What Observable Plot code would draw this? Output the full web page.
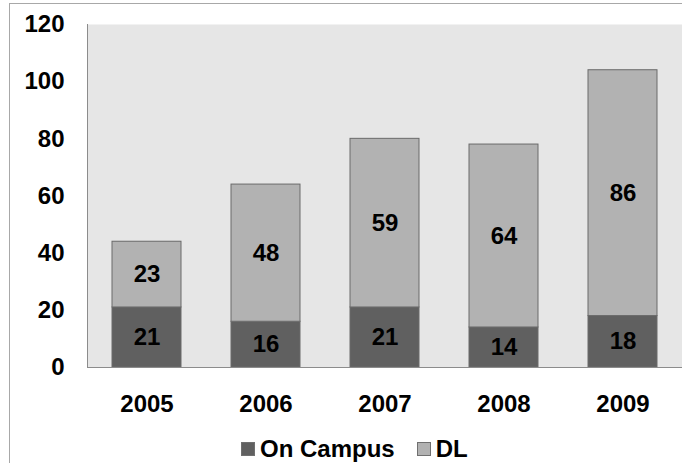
<!DOCTYPE html>
<html>
<head>
<meta charset="utf-8">
<script src="https://cdn.jsdelivr.net/npm/d3@7"></script>
<script src="https://cdn.jsdelivr.net/npm/@observablehq/plot@0.6"></script>
<style>
  html, body { margin: 0; padding: 0; background: #fff; }
  #wrap { position: relative; width: 682px; height: 463px; overflow: hidden; font-family: "Liberation Sans", Arial, sans-serif; }
  #border { position: absolute; left: 9px; top: 3px; width: 720px; height: 520px; border: 1.5px solid #a8a8a8; box-sizing: border-box; }
  #chart { position: absolute; left: 0; top: 0; }
  #legend { position: absolute; left: 241px; top: 435px; display: flex; align-items: center; font-weight: bold; font-size: 24px; color: #000; }
  .sw { width: 12px; height: 12px; border: 1px solid #707070; display: inline-block; margin-right: 5px; }
  .item { display: flex; align-items: center; margin-right: 22px; }
</style>
</head>
<body>
<div id="wrap">
  <div id="border"></div>
  <div id="chart"></div>
  <div id="legend"></div>
</div>
<script>
const years = ["2005", "2006", "2007", "2008", "2009"];
const seriesNames = ["On Campus", "DL"];
const onCampus = [21, 16, 21, 14, 18];
const dl = [23, 48, 59, 64, 86];
const yTicks = [0, 20, 40, 60, 80, 100, 120];
const colors = ["#606060", "#b2b2b2"];

const data = [];
years.forEach((yr, i) => {
  data.push({year: yr, series: seriesNames[0], value: onCampus[i]});
  data.push({year: yr, series: seriesNames[1], value: dl[i]});
});

const leftLine = (index, scales, values, dims) => {
  const ns = "http://www.w3.org/2000/svg";
  const l = document.createElementNS(ns, "line");
  l.setAttribute("x1", dims.marginLeft + 0.5);
  l.setAttribute("x2", dims.marginLeft + 0.5);
  l.setAttribute("y1", dims.marginTop);
  l.setAttribute("y2", dims.height - dims.marginBottom);
  l.setAttribute("stroke", "#8c8c8c");
  return l;
};

const plot = Plot.plot({
  width: 682,
  height: 420,
  marginLeft: 87,
  marginRight: 0,
  marginTop: 24,
  marginBottom: 53,
  style: {fontFamily: "'Liberation Sans', Arial, sans-serif", fontSize: "24px", fontWeight: "bold", color: "#000", background: "transparent"},
  x: {domain: years, paddingInner: 0.42, paddingOuter: 0.21, label: null, tickSize: 0, tickPadding: 27},
  y: {domain: [0, 120], ticks: yTicks, label: null, tickSize: 0, tickPadding: 23},
  color: {domain: seriesNames, range: colors},
  marks: [
    Plot.frame({fill: "#e6e6e6", stroke: null}),
    Plot.barY(data, {x: "year", y: "value", fill: "series", z: "series", stroke: "#6a6a6a", strokeWidth: 1}),
    Plot.text(data, Plot.stackY({x: "year", y: "value", z: "series", text: "value", fill: "#000", fontSize: 24, fontWeight: "bold"})),
    leftLine,
    Plot.ruleY([0], {stroke: "#8c8c8c", strokeWidth: 1})
  ]
});
document.getElementById("chart").appendChild(plot);

const legend = document.getElementById("legend");
seriesNames.forEach((name, i) => {
  const item = document.createElement("span");
  item.className = "item";
  const sw = document.createElement("span");
  sw.className = "sw";
  sw.style.background = colors[i];
  item.appendChild(sw);
  item.appendChild(document.createTextNode(name));
  legend.appendChild(item);
});
</script>
</body>
</html>
